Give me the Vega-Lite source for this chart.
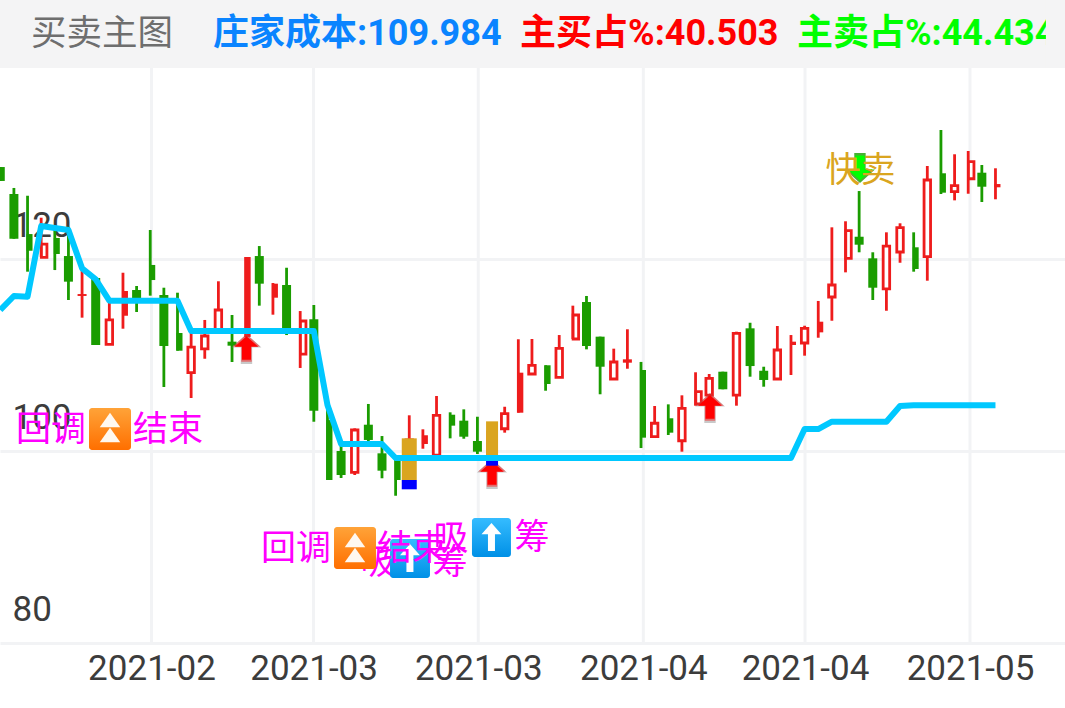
{
"$schema":"https://vega.github.io/schema/vega-lite/v6.json",
"width":1065,"height":708,"padding":0,"autosize":{"type":"none"},"background":"white",
"config":{"view":{"stroke":null},"scale":{"continuousPadding":0}},
"resolve":{"scale":{"color":"independent"}},
"datasets":{
"gridx":[{"i":11.09,"y0":80,"y1":139.9},{"i":22.98,"y0":80,"y1":139.9},{"i":35.06,"y0":80,"y1":139.9},{"i":47.17,"y0":80,"y1":139.9},{"i":59.03,"y0":80,"y1":139.9},{"i":71.13,"y0":80,"y1":139.9}],
"candles":[
{"i":0,"k":"d","w":"f","h":129.58,"l":128.13,"t":129.58,"b":128.13,"c":114.69},
{"i":1,"k":"d","w":"f","h":127.4,"l":122.11,"t":126.77,"b":122.11,"c":116.15},
{"i":2,"k":"d","w":"h","h":126.59,"l":118.68,"t":122.6,"b":120.86,"c":116.07},
{"i":3,"k":"u","w":"h","h":124.3,"l":120.18,"t":121.56,"b":120.18,"c":123.44},
{"i":4,"k":"d","w":"h","h":123.02,"l":118.85,"t":122.19,"b":120.52,"c":123.23},
{"i":5,"k":"d","w":"f","h":123.36,"l":115.73,"t":120.31,"b":117.64,"c":123.02},
{"i":6,"k":"f","w":"f","h":118.85,"l":113.89,"t":116.35,"b":116.15,"c":119.03},
{"i":7,"k":"d","w":"f","h":118.02,"l":111.04,"t":118.02,"b":111.04,"c":117.89},
{"i":8,"k":"u","w":"f","h":115.63,"l":111.11,"t":113.65,"b":111.11,"c":115.66},
{"i":9,"k":"f","w":"h","h":118.57,"l":112.74,"t":116.67,"b":114.09,"c":115.66},
{"i":10,"k":"d","w":"f","h":117.19,"l":114.48,"t":116.77,"b":115.52,"c":115.66},
{"i":11,"k":"d","w":"h","h":123.02,"l":116.18,"t":119.38,"b":117.81,"c":115.66},
{"i":12,"k":"d","w":"f","h":117.01,"l":106.67,"t":116.25,"b":110.94,"c":115.66},
{"i":13,"k":"d","w":"h","h":116.49,"l":110.45,"t":112.29,"b":110.45,"c":115.66},
{"i":14,"k":"u","w":"f","h":112.29,"l":105.52,"t":110.83,"b":108.16,"c":112.5},
{"i":15,"k":"u","w":"f","h":113.65,"l":109.61,"t":111.98,"b":110.63,"c":112.5},
{"i":16,"k":"u","w":"f","h":117.68,"l":112.29,"t":114.69,"b":112.6,"c":112.5},
{"i":17,"k":"d","w":"f","h":114.17,"l":109.27,"t":111.39,"b":110.97,"c":112.5},
{"i":18,"k":"f","w":"h","h":120.21,"l":111.88,"t":120.21,"b":111.88,"c":112.5},
{"i":19,"k":"d","w":"f","h":121.35,"l":115.14,"t":120.31,"b":117.43,"c":112.5},
{"i":20,"k":"f","w":"h","h":117.5,"l":114.2,"t":117.43,"b":115.97,"c":112.5},
{"i":21,"k":"d","w":"f","h":119.09,"l":112.08,"t":117.29,"b":112.4,"c":112.5},
{"i":22,"k":"u","w":"h","h":114.58,"l":108.65,"t":113.54,"b":110.1,"c":112.5},
{"i":23,"k":"d","w":"f","h":115.21,"l":103.05,"t":113.72,"b":104.2,"c":112.5},
{"i":24,"k":"d","w":"h","h":104.61,"l":96.98,"t":103.23,"b":96.98,"c":104.79},
{"i":25,"k":"d","w":"f","h":100.63,"l":97.19,"t":100,"b":97.5,"c":100.73},
{"i":26,"k":"u","w":"f","h":102.36,"l":97.5,"t":102.19,"b":97.78,"c":100.73},
{"i":27,"k":"d","w":"f","h":104.9,"l":100.97,"t":102.74,"b":101.15,"c":100.73},
{"i":28,"k":"d","w":"f","h":101.56,"l":97.16,"t":99.76,"b":97.95,"c":100.73},
{"i":29,"k":"d","w":"h","h":99.24,"l":95.34,"t":99.06,"b":96.98,"c":99.27},
{"i":30,"k":"u","w":"f","h":103.72,"l":97.5,"t":101.15,"b":97.5,"c":99.27},
{"i":31,"k":"f","w":"h","h":102.26,"l":100.24,"t":101.64,"b":100.73,"c":99.27},
{"i":32,"k":"u","w":"f","h":105.73,"l":99.58,"t":103.72,"b":99.58,"c":99.27},
{"i":33,"k":"d","w":"h","h":104.03,"l":101.32,"t":103.78,"b":102.64,"c":99.27},
{"i":34,"k":"d","w":"f","h":104.34,"l":101.28,"t":103.16,"b":101.49,"c":99.27},
{"i":35,"k":"d","w":"f","h":103.57,"l":99.69,"t":101.04,"b":99.93,"c":99.27},
{"i":36,"k":"u","w":"f","h":102.5,"l":99.5,"t":102,"b":99.7,"c":99.27},
{"i":37,"k":"u","w":"f","h":104.61,"l":101.91,"t":103.89,"b":102.32,"c":99.27},
{"i":38,"k":"f","w":"h","h":111.64,"l":103.99,"t":108.16,"b":103.99,"c":99.27},
{"i":39,"k":"u","w":"f","h":111.67,"l":108.02,"t":108.93,"b":108.02,"c":99.27},
{"i":40,"k":"d","w":"h","h":108.93,"l":106.28,"t":108.93,"b":106.98,"c":99.27},
{"i":41,"k":"u","w":"f","h":112.08,"l":107.68,"t":110.7,"b":107.68,"c":99.27},
{"i":42,"k":"u","w":"h","h":115.14,"l":111.67,"t":114.17,"b":111.67,"c":99.27},
{"i":43,"k":"d","w":"f","h":116.15,"l":110.59,"t":115.52,"b":110.94,"c":99.27},
{"i":44,"k":"d","w":"f","h":111.91,"l":105.91,"t":111.91,"b":108.78,"c":99.27},
{"i":45,"k":"u","w":"f","h":110.66,"l":107.5,"t":109.27,"b":107.5,"c":99.27},
{"i":46,"k":"f","w":"f","h":112.68,"l":108.57,"t":109.55,"b":109.2,"c":99.27},
{"i":47,"k":"d","w":"h","h":109.28,"l":100.31,"t":108.44,"b":101.39,"c":99.27},
{"i":48,"k":"u","w":"f","h":104.69,"l":101.49,"t":102.89,"b":101.49,"c":99.27},
{"i":49,"k":"d","w":"h","h":104.86,"l":101.67,"t":103.41,"b":101.91,"c":99.27},
{"i":50,"k":"u","w":"f","h":105.8,"l":99.93,"t":104.45,"b":101.07,"c":99.27},
{"i":51,"k":"u","w":"h","h":108.2,"l":104.72,"t":106.18,"b":104.9,"c":99.27},
{"i":52,"k":"u","w":"f","h":108.02,"l":105.31,"t":107.57,"b":105.83,"c":99.27},
{"i":53,"k":"d","w":"f","h":108.26,"l":106.43,"t":108.26,"b":106.43,"c":99.27},
{"i":54,"k":"u","w":"f","h":112.43,"l":104.72,"t":112.26,"b":105.83,"c":99.27},
{"i":55,"k":"d","w":"f","h":113.36,"l":107.74,"t":112.78,"b":108.85,"c":99.27},
{"i":56,"k":"d","w":"f","h":108.78,"l":106.7,"t":108.36,"b":107.4,"c":99.27},
{"i":57,"k":"u","w":"f","h":113.02,"l":107.5,"t":110.52,"b":107.5,"c":99.27},
{"i":58,"k":"f","w":"h","h":112.08,"l":107.92,"t":111.39,"b":111.04,"c":99.27},
{"i":59,"k":"u","w":"f","h":113.05,"l":109.93,"t":112.78,"b":111.25,"c":102.29},
{"i":60,"k":"f","w":"h","h":115.63,"l":111.8,"t":113.47,"b":112.36,"c":102.29},
{"i":61,"k":"u","w":"f","h":123.3,"l":113.57,"t":117.29,"b":116.04,"c":103.05},
{"i":62,"k":"u","w":"h","h":123.93,"l":118.61,"t":122.95,"b":120.07,"c":103.05},
{"i":63,"k":"d","w":"f","h":127.08,"l":120.7,"t":122.32,"b":121.49,"c":103.05},
{"i":64,"k":"d","w":"f","h":120.7,"l":115.73,"t":120.07,"b":117.01,"c":103.05},
{"i":65,"k":"u","w":"f","h":122.78,"l":114.61,"t":121.35,"b":116.88,"c":103.05},
{"i":66,"k":"u","w":"f","h":123.72,"l":119.61,"t":123.26,"b":120.73,"c":104.69},
{"i":67,"k":"d","w":"h","h":122.78,"l":118.68,"t":121.22,"b":118.96,"c":104.76},
{"i":68,"k":"u","w":"f","h":129.69,"l":117.74,"t":128.23,"b":120.24,"c":104.76},
{"i":69,"k":"d","w":"h","h":133.44,"l":126.77,"t":128.93,"b":126.91,"c":104.76},
{"i":70,"k":"u","w":"f","h":130.91,"l":126.11,"t":127.64,"b":127.01,"c":104.76},
{"i":71,"k":"u","w":"h","h":131.25,"l":126.8,"t":130.14,"b":128.36,"c":104.76},
{"i":72,"k":"d","w":"f","h":129.79,"l":125.94,"t":128.99,"b":127.53,"c":104.76},
{"i":73,"k":"f","w":"h","h":129.45,"l":126.22,"t":127.81,"b":127.47,"c":104.76}
],
"flags":[
{"i":30,"s":"gold","t":101.32,"b":96.98},{"i":30,"s":"blue","t":96.98,"b":96.01},
{"i":36,"s":"gold","t":103.09,"b":99.27},{"i":36,"s":"blue","t":98.96,"b":98.47}
],
"arrows":[
{"i":18.06,"y":110.73,"d":"buy"},{"i":36.07,"y":97.71,"d":"buy"},{"i":52.06,"y":104.58,"d":"buy"},{"i":63.06,"y":129.48,"d":"sell"}
],
"tiles":[
{"e":"o","i":6.51,"i2":9.59,"y":104.48,"y2":100.1},
{"e":"o","i":24.48,"i2":27.56,"y":92.08,"y2":87.71},
{"e":"b","i":28.59,"i2":31.52,"y":90.83,"y2":86.77},
{"e":"b","i":34.6,"i2":37.46,"y":93.02,"y2":88.96}
],
"tri":[{"i":8.05,"y":103.23},{"i":8.05,"y":101.67},{"i":26.02,"y":90.73},{"i":26.02,"y":89.17}],
"arr":[{"i":30.05,"y":88.85},{"i":36.03,"y":91.04}],
"notes":[
{"i":27.71,"y":88.54,"t":"吸","s":"a"},
{"i":3.72,"y":102.4,"t":"回调","s":"b"},
{"i":12.3,"y":102.4,"t":"结束","s":"b"},
{"i":21.69,"y":90,"t":"回调","s":"b"},
{"i":30.2,"y":90,"t":"结束","s":"b"},
{"i":32.99,"y":88.54,"t":"筹","s":"b"},
{"i":33.06,"y":91.04,"t":"吸","s":"b"},
{"i":39.0,"y":91.15,"t":"筹","s":"b"}
],
"head":[
{"i":2.33,"y":143.54,"t":"买卖主图","g":"a"},
{"i":15.68,"y":143.54,"t":"庄家成本:109.984","g":"b"},
{"i":38.2,"y":143.54,"t":"主买占%:40.503","g":"r"},
{"i":58.51,"y":143.54,"t":"主卖占%:44.434","g":"s"}
]
},
"layer":[
{"data":{"name":"gridx"},
 "mark":{"type":"rule","color":"#f2f3f5","strokeWidth":3},
 "encoding":{
  "x":{"field":"i","type":"quantitative","title":null,"scale":{"domain":[-0.02,78.1]},
   "axis":{"values":[11.09,22.98,35.06,47.17,59.03,71.13],"offset":-65,"domain":false,"ticks":false,"grid":false,"labelFontSize":35,"labelFont":"Roboto","labelColor":"#3c3c3c","labelPadding":8,"labelFlush":false,"labelOverlap":false,"labelBound":false,
    "labelExpr":"datum.value<20?'2021-02':datum.value<40?'2021-03':datum.value<60?'2021-04':'2021-05'"}},
  "y":{"field":"y0","type":"quantitative","title":null,"scale":{"domain":[73.23,146.98]},
   "axis":{"values":[80,100,120],"domain":false,"ticks":false,"grid":true,"gridColor":"#f2f3f5","gridWidth":3,"labelFontSize":35,"labelFont":"Roboto","labelColor":"#3c3c3c","labelAlign":"left","labelBaseline":"alphabetic","labelPadding":-12,"labelOffset":-23,"labelFlush":false,"labelOverlap":false,"labelBound":false}},
  "y2":{"field":"y1"}
 }},
{"data":{"name":"candles"},
 "mark":{"type":"rule","strokeWidth":2.8},
 "encoding":{
  "x":{"field":"i","type":"quantitative","scale":{"domain":[-0.02,78.1]}},
  "y":{"field":"h","type":"quantitative","scale":{"domain":[73.23,146.98]}},
  "y2":{"field":"l"},
  "color":{"field":"k","type":"nominal","legend":null,"scale":{"domain":["d","u","f"],"range":["#1a9c00","#ee1c1c","#ee1c1c"]}}
 }},
{"data":{"name":"candles"},"transform":[{"filter":"datum.k!='u' && datum.w=='f'"}],
 "mark":{"type":"bar","size":9},
 "encoding":{
  "x":{"field":"i","type":"quantitative","scale":{"domain":[-0.02,78.1]}},
  "y":{"field":"t","type":"quantitative","scale":{"domain":[73.23,146.98]}},
  "y2":{"field":"b"},
  "color":{"field":"k","type":"nominal","legend":null,"scale":{"domain":["d","u","f"],"range":["#1a9c00","#ee1c1c","#ee1c1c"]}}
 }},
{"data":{"name":"candles"},"transform":[{"filter":"datum.k!='u' && datum.w=='h'"}],
 "mark":{"type":"bar","size":6,"xOffset":2},
 "encoding":{
  "x":{"field":"i","type":"quantitative","scale":{"domain":[-0.02,78.1]}},
  "y":{"field":"t","type":"quantitative","scale":{"domain":[73.23,146.98]}},
  "y2":{"field":"b"},
  "color":{"field":"k","type":"nominal","legend":null,"scale":{"domain":["d","u","f"],"range":["#1a9c00","#ee1c1c","#ee1c1c"]}}
 }},
{"data":{"name":"candles"},"transform":[{"filter":"datum.k=='u' && datum.w=='f'"}],
 "mark":{"type":"bar","size":6.5,"fill":"white","stroke":"#ee1c1c","strokeWidth":2.8},
 "encoding":{
  "x":{"field":"i","type":"quantitative","scale":{"domain":[-0.02,78.1]}},
  "y":{"field":"t","type":"quantitative","scale":{"domain":[73.23,146.98]}},
  "y2":{"field":"b"}
 }},
{"data":{"name":"candles"},"transform":[{"filter":"datum.k=='u' && datum.w=='h'"}],
 "mark":{"type":"bar","size":5.5,"xOffset":3,"fill":"white","stroke":"#ee1c1c","strokeWidth":2.8},
 "encoding":{
  "x":{"field":"i","type":"quantitative","scale":{"domain":[-0.02,78.1]}},
  "y":{"field":"t","type":"quantitative","scale":{"domain":[73.23,146.98]}},
  "y2":{"field":"b"}
 }},
{"data":{"name":"arrows"},"transform":[{"filter":"datum.d=='buy'"}],
 "mark":{"type":"point","filled":true,"shape":"M0,-1L1,-0.1L0.38,-0.1L0.38,1L-0.38,1L-0.38,-0.1L-1,-0.1Z","color":"#888888","opacity":0.45,"size":900,"strokeWidth":0,"yOffset":1},
 "encoding":{
  "x":{"field":"i","type":"quantitative","scale":{"domain":[-0.02,78.1]}},
  "y":{"field":"y","type":"quantitative","scale":{"domain":[73.23,146.98]}}
 }},
{"data":{"name":"arrows"},"transform":[{"filter":"datum.d=='buy'"}],
 "mark":{"type":"point","filled":true,"shape":"M0,-1L1,-0.1L0.38,-0.1L0.38,1L-0.38,1L-0.38,-0.1L-1,-0.1Z","color":"#ff0000","opacity":0.45,"size":760,"strokeWidth":0},
 "encoding":{
  "x":{"field":"i","type":"quantitative","scale":{"domain":[-0.02,78.1]}},
  "y":{"field":"y","type":"quantitative","scale":{"domain":[73.23,146.98]}}
 }},
{"data":{"name":"arrows"},"transform":[{"filter":"datum.d=='buy'"}],
 "mark":{"type":"point","filled":true,"shape":"M0,-1L1,-0.1L0.38,-0.1L0.38,1L-0.38,1L-0.38,-0.1L-1,-0.1Z","color":"#ff0000","opacity":1,"size":560,"strokeWidth":0},
 "encoding":{
  "x":{"field":"i","type":"quantitative","scale":{"domain":[-0.02,78.1]}},
  "y":{"field":"y","type":"quantitative","scale":{"domain":[73.23,146.98]}}
 }},
{"data":{"name":"arrows"},"transform":[{"filter":"datum.d=='sell'"}],
 "mark":{"type":"point","filled":true,"shape":"M0,1L1,0.1L0.38,0.1L0.38,-1L-0.38,-1L-0.38,0.1L-1,0.1Z","color":"#1a9c00","opacity":0.8,"size":900,"strokeWidth":0},
 "encoding":{
  "x":{"field":"i","type":"quantitative","scale":{"domain":[-0.02,78.1]}},
  "y":{"field":"y","type":"quantitative","scale":{"domain":[73.23,146.98]}}
 }},
{"data":{"name":"arrows"},"transform":[{"filter":"datum.d=='sell'"}],
 "mark":{"type":"point","filled":true,"shape":"M0,1L1,0.1L0.38,0.1L0.38,-1L-0.38,-1L-0.38,0.1L-1,0.1Z","color":"#00ff00","opacity":1,"size":620,"strokeWidth":0},
 "encoding":{
  "x":{"field":"i","type":"quantitative","scale":{"domain":[-0.02,78.1]}},
  "y":{"field":"y","type":"quantitative","scale":{"domain":[73.23,146.98]}}
 }},
{"data":{"name":"flags"},"transform":[{"filter":"datum.i==30"}],
 "mark":{"type":"bar","size":15},
 "encoding":{
  "x":{"field":"i","type":"quantitative","scale":{"domain":[-0.02,78.1]}},
  "y":{"field":"t","type":"quantitative","scale":{"domain":[73.23,146.98]}},
  "y2":{"field":"b"},
  "color":{"field":"s","type":"nominal","legend":null,"scale":{"domain":["gold","blue"],"range":["#daa520","#0000ff"]}}
 }},
{"data":{"name":"flags"},"transform":[{"filter":"datum.i==36"}],
 "mark":{"type":"bar","size":12,"xOffset":1},
 "encoding":{
  "x":{"field":"i","type":"quantitative","scale":{"domain":[-0.02,78.1]}},
  "y":{"field":"t","type":"quantitative","scale":{"domain":[73.23,146.98]}},
  "y2":{"field":"b"},
  "color":{"field":"s","type":"nominal","legend":null,"scale":{"domain":["gold","blue"],"range":["#daa520","#0000ff"]}}
 }},
{"data":{"name":"candles"},
 "mark":{"type":"line","color":"#00c8ff","strokeWidth":6,"strokeJoin":"round","interpolate":"linear"},
 "encoding":{
  "x":{"field":"i","type":"quantitative","scale":{"domain":[-0.02,78.1]}},
  "y":{"field":"c","type":"quantitative","scale":{"domain":[73.23,146.98]}}
 }},
{"data":{"name":"notes"},"transform":[{"filter":"datum.s=='a'"}],
 "mark":{"type":"text","font":"Noto Sans CJK SC","fontSize":35,"color":"#ff00ff","align":"center","baseline":"middle","dy":2},
 "encoding":{
  "x":{"field":"i","type":"quantitative","scale":{"domain":[-0.02,78.1]}},
  "y":{"field":"y","type":"quantitative","scale":{"domain":[73.23,146.98]}},
  "text":{"field":"t"}
 }},
{"data":{"name":"tiles"},"transform":[{"filter":"datum.e=='o'"}],
 "mark":{"type":"rect","cornerRadius":3,"fill":{"gradient":"linear","x1":0,"y1":0,"x2":0,"y2":1,"stops":[{"offset":0,"color":"#ffa338"},{"offset":1,"color":"#ff6f00"}]}},
 "encoding":{
  "x":{"field":"i","type":"quantitative","scale":{"domain":[-0.02,78.1]}},
  "x2":{"field":"i2"},
  "y":{"field":"y","type":"quantitative","scale":{"domain":[73.23,146.98]}},
  "y2":{"field":"y2"}
 }},
{"data":{"name":"tiles"},"transform":[{"filter":"datum.e=='b'"}],
 "mark":{"type":"rect","cornerRadius":3,"fill":{"gradient":"linear","x1":0,"y1":0,"x2":0,"y2":1,"stops":[{"offset":0,"color":"#35bcff"},{"offset":1,"color":"#0090e6"}]}},
 "encoding":{
  "x":{"field":"i","type":"quantitative","scale":{"domain":[-0.02,78.1]}},
  "x2":{"field":"i2"},
  "y":{"field":"y","type":"quantitative","scale":{"domain":[73.23,146.98]}},
  "y2":{"field":"y2"}
 }},
{"data":{"name":"tri"},
 "mark":{"type":"point","filled":true,"shape":"M0,-0.7L1,0.7L-1,0.7Z","color":"#fff8f0","opacity":1,"size":420,"strokeWidth":0},
 "encoding":{
  "x":{"field":"i","type":"quantitative","scale":{"domain":[-0.02,78.1]}},
  "y":{"field":"y","type":"quantitative","scale":{"domain":[73.23,146.98]}}
 }},
{"data":{"name":"arr"},
 "mark":{"type":"point","filled":true,"shape":"M0,-1L0.71,-0.2L0.25,-0.2L0.25,1L-0.25,1L-0.25,-0.2L-0.71,-0.2Z","color":"#ffffff","opacity":1,"size":784,"strokeWidth":0},
 "encoding":{
  "x":{"field":"i","type":"quantitative","scale":{"domain":[-0.02,78.1]}},
  "y":{"field":"y","type":"quantitative","scale":{"domain":[73.23,146.98]}}
 }},
{"data":{"name":"notes"},"transform":[{"filter":"datum.s=='b'"}],
 "mark":{"type":"text","font":"Noto Sans CJK SC","fontSize":35,"color":"#ff00ff","align":"center","baseline":"middle","dy":2},
 "encoding":{
  "x":{"field":"i","type":"quantitative","scale":{"domain":[-0.02,78.1]}},
  "y":{"field":"y","type":"quantitative","scale":{"domain":[73.23,146.98]}},
  "text":{"field":"t"}
 }},
{"data":{"values":[{"i":63.1,"y":129.38,"t":"快卖"}]},
 "mark":{"type":"text","font":"Noto Sans CJK SC","fontSize":35,"color":"#daa520","align":"center","baseline":"middle","dy":2},
 "encoding":{
  "x":{"field":"i","type":"quantitative","scale":{"domain":[-0.02,78.1]}},
  "y":{"field":"y","type":"quantitative","scale":{"domain":[73.23,146.98]}},
  "text":{"field":"t"}
 }},
{"data":{"values":[{"i":-0.02,"i2":78.1,"y":146.98,"y2":139.9}]},
 "mark":{"type":"rect","fill":"#f4f4f5"},
 "encoding":{
  "x":{"field":"i","type":"quantitative","scale":{"domain":[-0.02,78.1]}},
  "x2":{"field":"i2"},
  "y":{"field":"y","type":"quantitative","scale":{"domain":[73.23,146.98]}},
  "y2":{"field":"y2"}
 }},
{"data":{"name":"head"},"transform":[{"filter":"datum.g=='a'"}],
 "mark":{"type":"text","font":"Noto Sans CJK SC","fontSize":35.5,"fontWeight":"normal","color":"#6e6e6e","align":"left","baseline":"middle","dx":-1,"dy":1},
 "encoding":{
  "x":{"field":"i","type":"quantitative","scale":{"domain":[-0.02,78.1]}},
  "y":{"field":"y","type":"quantitative","scale":{"domain":[73.23,146.98]}},
  "text":{"field":"t"}
 }},
{"data":{"name":"head"},"transform":[{"filter":"datum.g!='a'"}],
 "mark":{"type":"text","font":"Roboto, Noto Sans CJK SC","fontSize":36,"fontWeight":"bold","align":"left","baseline":"middle","dx":-1,"dy":1},
 "encoding":{
  "x":{"field":"i","type":"quantitative","scale":{"domain":[-0.02,78.1]}},
  "y":{"field":"y","type":"quantitative","scale":{"domain":[73.23,146.98]}},
  "text":{"field":"t"},
  "color":{"field":"g","type":"nominal","legend":null,"scale":{"domain":["b","r","s"],"range":["#0a84ff","#ff0000","#00ff00"]}}
 }},
{"data":{"values":[{"i":76.7,"i2":78.1,"y":146.98,"y2":139.9}]},
 "mark":{"type":"rect","fill":"#f4f4f5"},
 "encoding":{
  "x":{"field":"i","type":"quantitative","scale":{"domain":[-0.02,78.1]}},
  "x2":{"field":"i2"},
  "y":{"field":"y","type":"quantitative","scale":{"domain":[73.23,146.98]}},
  "y2":{"field":"y2"}
 }}
]
}
